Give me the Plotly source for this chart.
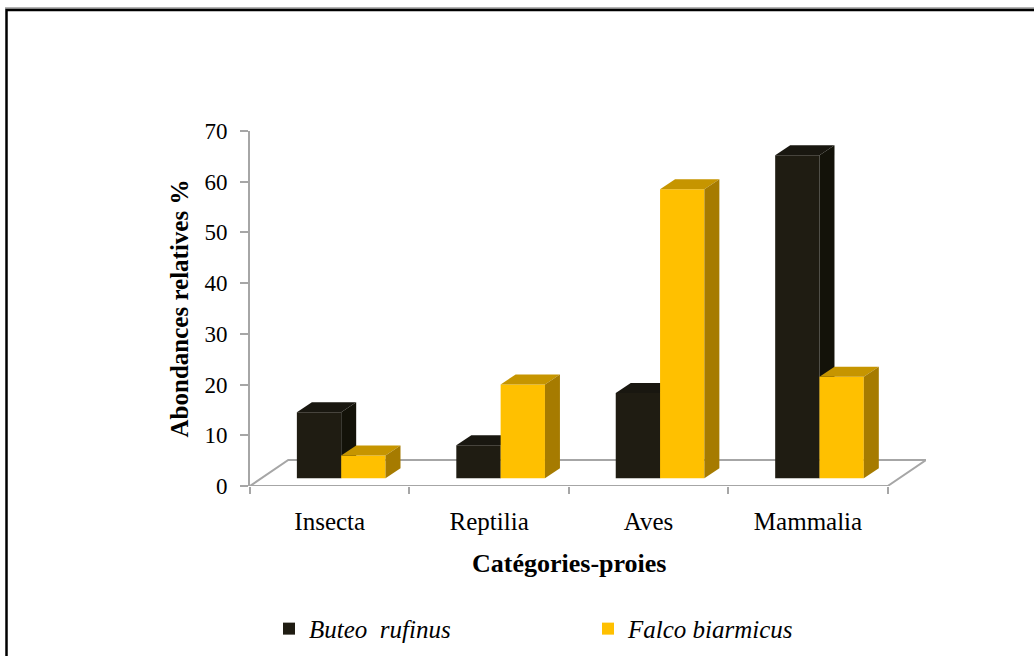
import plotly.graph_objects as go

# Prey categories and relative abundances (%) for each raptor
categories = ["Insecta", "Reptilia", "Aves", "Mammalia"]
buteo_rufinus = [13.0, 6.5, 16.8, 63.7]
falco_biarmicus = [4.5, 18.5, 57.0, 20.0]
y_ticks = [0, 10, 20, 30, 40, 50, 60, 70]

# --- pseudo-3D geometry (in axis units) ---
DX, DY = 0.24, 5.12          # floor depth offset (x in categories, y in %)
F = 0.30                     # depth position of the bar fronts on the floor
BASE = F * DY                # bar front base
SHIFT = F * DX               # horizontal shift of the bar fronts
BW = 0.278                   # bar width
BDX, BDY = 0.094, 1.97       # bar depth (side / top faces)

FONT = "Liberation Serif, Times New Roman, serif"
BLACK = dict(front="#1f1c12", top="#191710", side="#131209")
YELLOW = dict(front="#ffc000", top="#c69500", side="#a67b00")

# plot area in pixels
W, H = 1034, 656
L, R, T, B = 250, 926, 130.7, 486


def px_x(px):
    return (px - L) / (R - L)


def px_y(py):
    return (B - py) / (B - T)


fig = go.Figure()


def add_series(values, name, colors, offset, xa, ya):
    idx = list(range(len(values)))
    fig.add_trace(go.Bar(
        x=idx, y=values, base=BASE, width=BW, offset=offset,
        marker=dict(color=colors["front"], line=dict(width=0)),
        name=name, xaxis=xa, yaxis=ya, hoverinfo="skip",
    ))
    for i, v in enumerate(values):
        x0 = i + offset
        x1 = x0 + BW
        top = BASE + v
        # top face
        fig.add_trace(go.Scatter(
            x=[x0, x0 + BDX, x1 + BDX, x1, x0],
            y=[top, top + BDY, top + BDY, top, top],
            fill="toself", fillcolor=colors["top"], mode="lines",
            line=dict(width=0, color=colors["top"]),
            showlegend=False, hoverinfo="skip", xaxis=xa, yaxis=ya,
        ))
        # side face
        fig.add_trace(go.Scatter(
            x=[x1, x1 + BDX, x1 + BDX, x1, x1],
            y=[BASE, BASE + BDY, top + BDY, top, BASE],
            fill="toself", fillcolor=colors["side"], mode="lines",
            line=dict(width=0, color=colors["side"]),
            showlegend=False, hoverinfo="skip", xaxis=xa, yaxis=ya,
        ))


# rear series first, front-right series on an overlaid subplot
add_series(buteo_rufinus, "<i>Buteo\u00a0\u00a0rufinus</i>", BLACK, SHIFT - BW, "x", "y")
add_series(falco_biarmicus, "<i>Falco biarmicus</i>", YELLOW, SHIFT, "x2", "y2")

n = len(categories)
x_lo, x_hi = -0.5, n - 0.5
GRAY = "#a6a6a6"

shapes = [
    # floor of the 3D box
    dict(type="path", xref="x", yref="y", layer="below",
         path=(f"M{x_lo},0 L{x_hi},0 L{x_hi + DX},{DY} "
               f"L{x_lo + DX},{DY} Z"),
         line=dict(color=GRAY, width=2), fillcolor="rgba(0,0,0,0)"),
    # chart frame
    dict(type="line", xref="paper", yref="paper",
         x0=px_x(5), x1=px_x(1040), y0=px_y(7.5), y1=px_y(7.5),
         line=dict(color="#9a9a9a", width=1.5)),
    dict(type="rect", xref="paper", yref="paper",
         x0=px_x(6.5), x1=px_x(1060), y0=px_y(9.5), y1=px_y(700),
         line=dict(color="black", width=2.5), fillcolor="rgba(0,0,0,0)"),
]

fig.update_layout(
    width=W, height=H,
    margin=dict(l=L, r=W - R, t=T, b=H - B, pad=0, autoexpand=False),
    paper_bgcolor="white", plot_bgcolor="white",
    barmode="overlay",
    showlegend=True,
    shapes=shapes,
    font=dict(family=FONT, color="black"),
    xaxis=dict(
        range=[x_lo, x_hi + DX], automargin=False,
        tickvals=[x_lo + k for k in range(n + 1)],
        showticklabels=False, ticks="outside", ticklen=7, tickwidth=2,
        tickcolor=GRAY, showgrid=False, zeroline=False, showline=False,
    ),
    xaxis2=dict(
        overlaying="x", matches="x", side="bottom", automargin=False,
        range=[x_lo, x_hi + DX],
        tickvals=list(range(n)), ticktext=categories, ticks="",
        tickfont=dict(family=FONT, size=25, color="black"),
        ticklabelstandoff=18,
        showgrid=False, zeroline=False, showline=False,
    ),
    yaxis=dict(
        range=[0, 70], tickvals=y_ticks, automargin=False,
        ticks="outside", ticklen=8, tickwidth=2, tickcolor=GRAY,
        showline=True, linecolor=GRAY, linewidth=2,
        showgrid=False, zeroline=False,
        tickfont=dict(family=FONT, size=23, color="black"),
        ticklabelstandoff=8,
        title=dict(text="<b>Abondances relatives %</b>",
                   font=dict(family=FONT, size=25, color="black"),
                   standoff=9),
    ),
    yaxis2=dict(overlaying="y", matches="y", range=[0, 70], visible=False),
    legend=dict(
        orientation="h", x=px_x(269), xanchor="left",
        y=px_y(629), yanchor="middle",
        font=dict(family=FONT, size=25, color="black"),
        entrywidthmode="pixels", entrywidth=274,
        bgcolor="rgba(0,0,0,0)", traceorder="normal",
    ),
    annotations=[dict(
        text="<b>Catégories-proies</b>", xref="x", yref="paper",
        x=1.5, y=px_y(564), xanchor="center", yanchor="middle",
        showarrow=False, font=dict(family=FONT, size=26, color="black"),
    )],
)

fig.write_html("out.html")
